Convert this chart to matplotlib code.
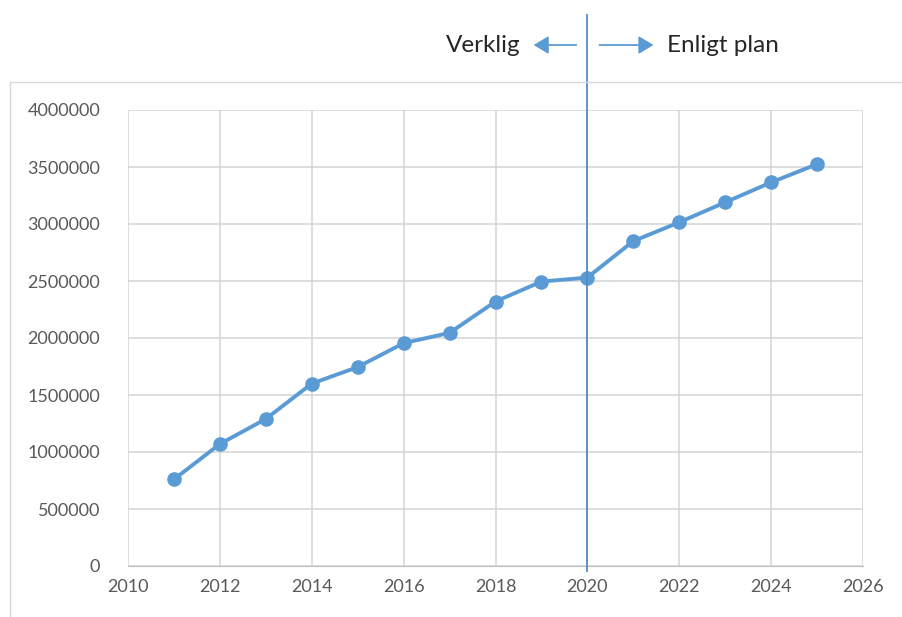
import matplotlib
matplotlib.use("Agg")
import matplotlib.pyplot as plt
from matplotlib.lines import Line2D

years = [2011, 2012, 2013, 2014, 2015, 2016, 2017, 2018,
         2019, 2020, 2021, 2022, 2023, 2024, 2025]
values = [760000, 1070000, 1290000, 1600000, 1745000, 1955000, 2045000, 2320000,
          2495000, 2530000, 2850000, 3015000, 3190000, 3365000, 3525000]
x_ticks = [2010, 2012, 2014, 2016, 2018, 2020, 2022, 2024, 2026]
y_ticks = [0, 500000, 1000000, 1500000, 2000000, 2500000, 3000000, 3500000, 4000000]
split_year = 2020
label_left = "Verklig"
label_right = "Enligt plan"

plt.rcParams['font.family'] = ['Lato', 'DejaVu Sans']
blue = "#5B9BD5"
grey_txt = "#595959"

fig = plt.figure(figsize=(9.03, 6.17), dpi=100)
ax = fig.add_axes([128/903, 1 - 566/617, (863-128)/903, (566-110)/617])

ax.plot(years, values, color=blue, lw=2.8, marker='o', ms=9.5,
        markeredgecolor=blue, markerfacecolor=blue, zorder=3)

ax.set_xlim(2010, 2026)
ax.set_ylim(0, 4000000)
ax.set_xticks(x_ticks)
ax.set_yticks(y_ticks)
ax.set_yticklabels([str(v) for v in y_ticks])
ax.grid(True, color="#D4D4D4", lw=1.1)
ax.set_axisbelow(True)
for s in ['top', 'right', 'left']:
    ax.spines[s].set_visible(False)
ax.spines['bottom'].set_color("#BFBFBF")
ax.tick_params(length=0, labelsize=13, colors=grey_txt)
ax.tick_params(axis='y', pad=20)
ax.tick_params(axis='x', pad=9)

# divider between actual and planned
xt = ax.get_xaxis_transform()
ax.plot([split_year, split_year], [-0.01, 1.208], transform=xt, color="#4F8CC9",
        lw=1.3, clip_on=False, zorder=4)
arrow_y = 1.1425
ax.annotate("", xy=(split_year - 1.23, arrow_y), xytext=(split_year - 0.18, arrow_y),
            xycoords=xt, textcoords=xt,
            arrowprops=dict(arrowstyle='-|>,head_length=0.5,head_width=0.3',
                            color=blue, lw=1.3, mutation_scale=18))
ax.annotate("", xy=(split_year + 1.5, arrow_y), xytext=(split_year + 0.2, arrow_y),
            xycoords=xt, textcoords=xt,
            arrowprops=dict(arrowstyle='-|>,head_length=0.5,head_width=0.3',
                            color=blue, lw=1.3, mutation_scale=18))
ax.text(split_year - 1.45, arrow_y - 0.002, label_left, transform=xt, ha='right',
        va='center', fontsize=17.5, color="#262626")
ax.text(split_year + 1.73, arrow_y - 0.002, label_right, transform=xt, ha='left',
        va='center', fontsize=17.5, color="#262626")

# chart area border (left and top edges)
fig.add_artist(Line2D([10/903, 10/903], [0, 1 - 82/617], transform=fig.transFigure,
                      color="#D9D9D9", lw=1))
fig.add_artist(Line2D([10/903, 1], [1 - 82/617, 1 - 82/617], transform=fig.transFigure,
                      color="#D9D9D9", lw=1))

fig.savefig("out.png", dpi=100, facecolor="white")
